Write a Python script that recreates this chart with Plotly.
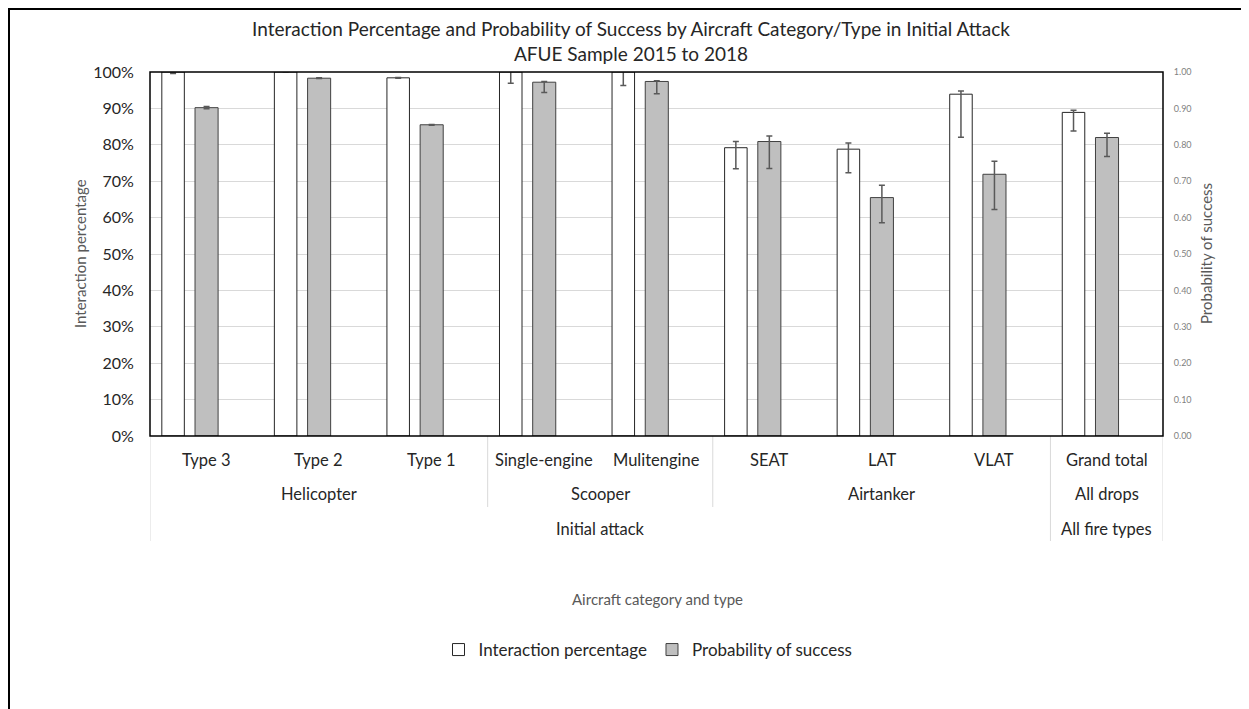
import plotly.graph_objects as go

# ---- data ----
types = ["Type 3", "Type 2", "Type 1", "Single-engine", "Mulitengine", "SEAT", "LAT", "VLAT", "Grand total"]
categories = ["Helicopter", "Scooper", "Airtanker", "All drops"]
category_span = [(0, 2), (3, 4), (5, 7), (8, 8)]
groups = ["Initial attack", "All fire types"]
group_span = [(0, 7), (8, 8)]

interaction_pct = [100.0, 100.0, 98.4, 100.0, 100.0, 79.2, 78.8, 93.9, 88.9]
interaction_err_plus = [0.0, 0.0, 0.1, 2.0, 2.0, 1.7, 1.7, 0.9, 0.6]
interaction_err_minus = [0.4, 0.0, 0.1, 3.1, 3.7, 5.8, 6.5, 11.8, 5.1]

prob_success = [0.902, 0.983, 0.855, 0.972, 0.974, 0.809, 0.655, 0.719, 0.820]
prob_err_plus = [0.003, 0.001, 0.001, 0.002, 0.002, 0.015, 0.034, 0.036, 0.012]
prob_err_minus = [0.003, 0.001, 0.001, 0.028, 0.034, 0.074, 0.069, 0.097, 0.052]

left_ticks = [0, 10, 20, 30, 40, 50, 60, 70, 80, 90, 100]
left_tick_text = ["0%", "10%", "20%", "30%", "40%", "50%", "60%", "70%", "80%", "90%", "100%"]
right_ticks = [0.0, 0.1, 0.2, 0.3, 0.4, 0.5, 0.6, 0.7, 0.8, 0.9, 1.0]

FONT = "Lato"
OFF = 8  # default page body margin
W, H = 1249 - OFF, 709 - OFF
# plot area in page pixels
L, R, T, B = 150, 1163, 72, 436


def px_x(p):
    return (p - L) / (R - L)


def px_y(p):
    return (B - p) / (B - T)


xs = list(range(len(types)))

fig = go.Figure()
fig.add_trace(go.Bar(
    x=xs, y=interaction_pct, name="Interaction percentage",
    offset=-0.395, width=0.2,
    marker=dict(color="white", line=dict(color="#262626", width=1)),
    error_y=dict(type="data", symmetric=False, array=interaction_err_plus,
                 arrayminus=interaction_err_minus, color="#595959", thickness=1.5, width=3),
    yaxis="y",
))
fig.add_trace(go.Bar(
    x=xs, y=prob_success, name="Probability of success",
    offset=-0.1, width=0.205,
    marker=dict(color="#BFBFBF", line=dict(color="#404040", width=1)),
    error_y=dict(type="data", symmetric=False, array=prob_err_plus,
                 arrayminus=prob_err_minus, color="#595959", thickness=1.5, width=3),
    yaxis="y2",
))

lab_font = dict(family=FONT, size=16.5, color="#262626")
annotations = []
for i, t in enumerate(types):
    annotations.append(dict(x=i, y=px_y(460), xref="x", yref="paper", text=t, showarrow=False,
                            font=lab_font, xanchor="center", yanchor="middle"))
for c, (a, b) in zip(categories, category_span):
    annotations.append(dict(x=(a + b) / 2, y=px_y(494), xref="x", yref="paper", text=c, showarrow=False,
                            font=lab_font, xanchor="center", yanchor="middle"))
for g, (a, b) in zip(groups, group_span):
    annotations.append(dict(x=(a + b) / 2, y=px_y(529), xref="x", yref="paper", text=g, showarrow=False,
                            font=lab_font, xanchor="center", yanchor="middle"))
title_font = dict(family=FONT, size=15, color="#595959")
annotations.append(dict(x=px_x(80), y=px_y(254), xref="paper", yref="paper", text="Interaction percentage",
                        showarrow=False, textangle=-90, font=title_font, xanchor="center", yanchor="middle"))
annotations.append(dict(x=px_x(1206), y=px_y(254), xref="paper", yref="paper", text="Probability of success",
                        showarrow=False, textangle=-90, font=title_font, xanchor="center", yanchor="middle"))
annotations.append(dict(x=px_x(657), y=px_y(599), xref="paper", yref="paper", text="Aircraft category and type",
                        showarrow=False, font=title_font, xanchor="center", yanchor="middle"))

shapes = []
sep_color = "#D9D9D9"
for xv in [-0.5, 7.5, 8.5]:
    shapes.append(dict(type="line", xref="x", yref="paper", x0=xv, x1=xv, y0=0, y1=px_y(541),
                       line=dict(color=sep_color, width=1)))
for xv in [2.5, 4.5]:
    shapes.append(dict(type="line", xref="x", yref="paper", x0=xv, x1=xv, y0=0, y1=px_y(507),
                       line=dict(color=sep_color, width=1)))
shapes.append(dict(type="rect", xref="paper", yref="paper", x0=0, x1=1, y0=0, y1=1,
                   line=dict(color="#000000", width=1.5)))
# outer chart border (left and top edges visible)
shapes.append(dict(type="rect", xref="paper", yref="paper", x0=px_x(OFF + 1), x1=px_x(1300), y0=px_y(760),
                   y1=px_y(OFF + 1), line=dict(color="#000000", width=2)))

fig.update_layout(
    width=W, height=H,
    margin=dict(l=L - OFF, r=(1249 - OFF) - (R - OFF), t=T - OFF, b=(709 - OFF) - (B - OFF), pad=0),
    paper_bgcolor="white", plot_bgcolor="white",
    barmode="overlay",
    title=dict(text="Interaction Percentage and Probability of Success by Aircraft Category/Type in Initial Attack<br>AFUE Sample 2015 to 2018",
               xref="paper", x=px_x(631), xanchor="center", y=1 - (36 - OFF) / H, yanchor="middle",
               font=dict(family=FONT, size=19, color="#262626")),
    xaxis=dict(range=[-0.5, 8.5], showticklabels=False, showgrid=False, zeroline=False, fixedrange=True),
    yaxis=dict(range=[0, 100], tickvals=left_ticks, ticktext=left_tick_text, showgrid=True, gridcolor="#D9D9D9",
               gridwidth=1, zeroline=False, ticks="outside", ticklen=12, tickcolor="rgba(0,0,0,0)",
               tickfont=dict(family=FONT, size=16, color="#262626")),
    yaxis2=dict(range=[0, 1], tickvals=right_ticks, tickformat=".2f", overlaying="y", side="right",
                showgrid=False, zeroline=False, ticks="outside", ticklen=8, tickcolor="rgba(0,0,0,0)",
                tickfont=dict(family=FONT, size=9, color="#7F7F7F")),
    legend=dict(orientation="h", x=px_x(648), xanchor="center", y=px_y(650), yanchor="middle",
                font=dict(family=FONT, size=17, color="#262626"), itemwidth=30, traceorder="normal"),
    annotations=annotations,
    shapes=shapes,
    showlegend=True,
)

fig.write_html("out.html")
